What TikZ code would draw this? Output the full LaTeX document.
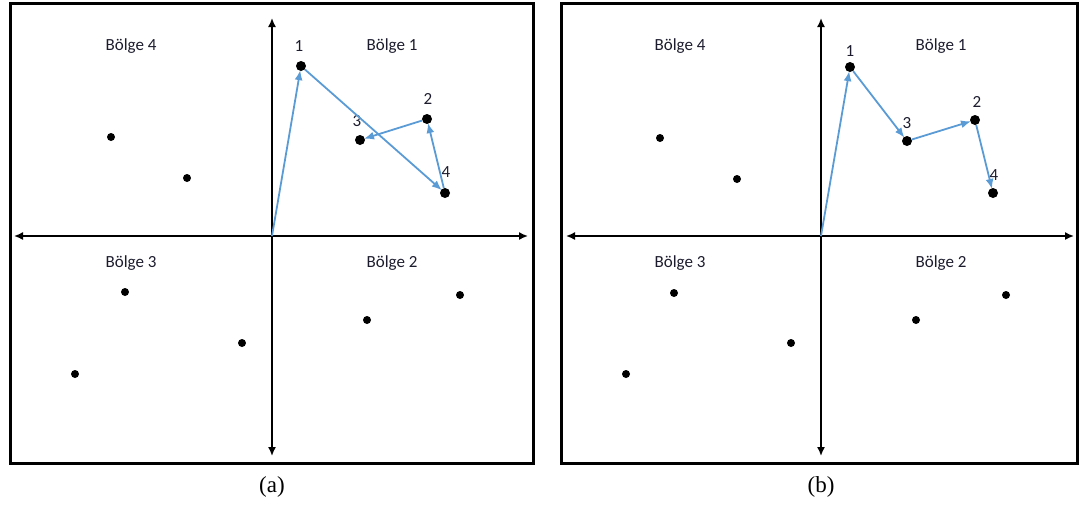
\documentclass[tikz,border=0pt]{standalone}
\usepackage{fontspec}
\setmainfont{Liberation Serif}
\newfontfamily\calib{Carlito}
\usetikzlibrary{arrows.meta}
\definecolor{officeblue}{HTML}{5B9BD5}
\definecolor{labelink}{HTML}{1C1C2E}
\tikzset{
  frame/.style={draw=black,line width=3pt},
  axis/.style={draw=black,line width=1.6pt,{Latex[length=9pt,width=8pt]}-{Latex[length=9pt,width=8pt]}},
  pt/.style={circle,fill=black,inner sep=0pt,minimum size=8pt},
  bigpt/.style={circle,fill=black,inner sep=0pt,minimum size=10pt},
  region/.style={font=\calib\fontsize{17}{19}\selectfont,text=labelink},
  num/.style={font=\calib\fontsize{17}{19}\selectfont,text=labelink},
  path/.style={draw=officeblue,line width=1.8pt,-{Latex[length=10pt,width=8pt]},shorten >=-1pt},
  caption/.style={font=\fontsize{23}{26}\selectfont}
}
\begin{document}
\begin{tikzpicture}[x=1pt,y=-1pt]
\useasboundingbox (0,0) rectangle (1080,504);
% ---------- panel (a)
\draw[frame] (10,3) rectangle (533,463);
\coordinate (aT) at (272,18);
\coordinate (aB) at (272,456);
\coordinate (aL) at (14,236);
\coordinate (aR) at (528,236);
\coordinate (aO) at (272,236);
\draw[axis] (aB) -- (aT);
\draw[axis] (aL) -- (aR);
\node[region] (aR4) at (131,46) {Bölge 4};
\node[region] (aR1) at (392,46) {Bölge 1};
\node[region] (aR3) at (131,263) {Bölge 3};
\node[region] (aR2) at (392,263) {Bölge 2};
\node[bigpt] (a1) at (301,66) {};
\node[bigpt] (a2) at (427,119) {};
\node[bigpt] (a3) at (360,140) {};
\node[bigpt] (a4) at (445,193) {};
\node[num] (a1l) at (299,46) {1};
\node[num] (a2l) at (428,99) {2};
\node[num] (a3l) at (357,121) {3};
\node[num] (a4l) at (446,172) {4};
\node[pt] (ap1) at (111,137) {};
\node[pt] (ap2) at (187,178) {};
\node[pt] (ap3) at (125,292) {};
\node[pt] (ap4) at (242,343) {};
\node[pt] (ap5) at (75,374) {};
\node[pt] (ap6) at (367,320) {};
\node[pt] (ap7) at (460,295) {};
\draw[path] (aO) -- (a1);
\draw[path] (a1) -- (a4);
\draw[path] (a4) -- (a2);
\draw[path] (a2) -- (a3);
\node[caption] (capa) at (272,487) {(a)};
% ---------- panel (b)
\draw[frame] (561,3) rectangle (1077,463);
\coordinate (bT) at (821,18);
\coordinate (bB) at (821,456);
\coordinate (bL) at (566,236);
\coordinate (bR) at (1074,236);
\coordinate (bO) at (821,236);
\draw[axis] (bB) -- (bT);
\draw[axis] (bL) -- (bR);
\node[region] (bR4) at (680,46) {Bölge 4};
\node[region] (bR1) at (941,46) {Bölge 1};
\node[region] (bR3) at (680,263) {Bölge 3};
\node[region] (bR2) at (941,263) {Bölge 2};
\node[bigpt] (b1) at (850,67) {};
\node[bigpt] (b2) at (975,120) {};
\node[bigpt] (b3) at (907,141) {};
\node[bigpt] (b4) at (993,193) {};
\node[num] (b1l) at (850,51) {1};
\node[num] (b2l) at (977,102) {2};
\node[num] (b3l) at (907,123) {3};
\node[num] (b4l) at (994,175) {4};
\node[pt] (bp1) at (660,138) {};
\node[pt] (bp2) at (737,179) {};
\node[pt] (bp3) at (674,293) {};
\node[pt] (bp4) at (791,343) {};
\node[pt] (bp5) at (626,374) {};
\node[pt] (bp6) at (916,320) {};
\node[pt] (bp7) at (1006,295) {};
\draw[path] (bO) -- (b1);
\draw[path] (b1) -- (b3);
\draw[path] (b3) -- (b2);
\draw[path] (b2) -- (b4);
\node[caption] (capb) at (821,487) {(b)};
\end{tikzpicture}
\end{document}
